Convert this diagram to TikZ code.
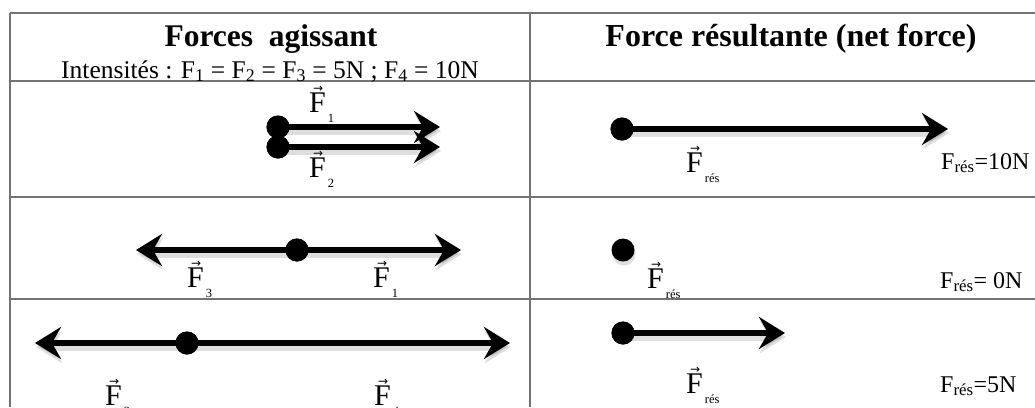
\documentclass[tikz,border=0pt]{standalone}
\usepackage{fontspec}
\setmainfont{Liberation Serif}
\newfontfamily\arrowfont{DejaVu Sans}
\usetikzlibrary{arrows.meta}
\newcommand{\vecF}[1]{\leavevmode\rlap{\makebox[0.6em][c]{\raisebox{0.64em}{\arrowfont\fontsize{12}{12}\selectfont →}}}F\kern2pt\raisebox{-10pt}{\fontsize{12.5}{12.5}\selectfont #1}}
\tikzset{
  grid/.style={draw=black!55, line width=1.3pt},
  dot/.style={circle, fill=black, inner sep=0pt, minimum size=23pt},
  shade/.style={preaction={draw=black, opacity=0.13, line width=8pt, transform canvas={shift={(1pt,-4pt)}}}},
  dotshade/.style={preaction={fill=black, opacity=0.13, transform canvas={shift={(1pt,-4pt)}}}},
  force/.style={line width=6pt, -{Stealth[length=26pt,width=32pt,inset=9pt]}, shade},
  vlab/.style={anchor=base west, inner sep=0pt, font=\fontsize{30}{32}\selectfont},
  rlab/.style={anchor=base west, inner sep=0pt, font=\fontsize{24}{26}\selectfont},
  head/.style={anchor=base, inner sep=0pt, font=\fontsize{31.5}{33}\selectfont\bfseries},
  sub/.style={anchor=base, inner sep=0pt, font=\fontsize{25.5}{27}\selectfont},
}
\begin{document}
\begin{tikzpicture}[x=1pt,y=-1pt]
\useasboundingbox (0,0) rectangle (1035,407);
% table
\draw[grid] (10,13) -- (1035,13);
\draw[grid] (10,81) -- (1035,81);
\draw[grid] (10,197) -- (1035,197);
\draw[grid] (10,299) -- (1035,299);
\draw[grid] (10,13) -- (10,407);
\draw[grid] (530,13) -- (530,407);
% headers
\node[head] (h1) at (271,46) {Forces\ \ agissant};
\node[sub] (h2) at (270,78) {Intensités : F\textsubscript{1} = F\textsubscript{2} = F\textsubscript{3} = 5N ; F\textsubscript{4} = 10N};
\node[head, font=\fontsize{32}{34}\selectfont\bfseries] (h3) at (791,46) {Force résultante (net force)};
% row 1 left
\coordinate (t1a) at (440,127);
\coordinate (t1b) at (440,147);
\node[dot] (d1a) at (278,127) {};
\node[dot] (d1b) at (278,147) {};
\draw[force] (d1a.center) -- (t1a);
\draw[force] (d1b.center) -- (t1b);
\node[dot] at (d1a) {};
\node[dot] at (d1b) {};
\node[vlab] (l1a) at (309,112) {\vecF{1}};
\node[vlab] (l1b) at (309,177) {\vecF{2}};
% row 1 right
\coordinate (r1t) at (948,129);
\node[dot] (r1d) at (622,129) {};
\draw[force] (r1d.center) -- (r1t);
\node[dot] at (r1d) {};
\node[vlab] (r1l) at (686,172) {\vecF{rés}};
\node[rlab] (r1v) at (941,169) {F\textsubscript{rés}=10N};
% row 2 left
\coordinate (t2l) at (136,250);
\coordinate (t2r) at (461,250);
\node[dot] (d2) at (297,250) {};
\draw[force] (d2.center) -- (t2l);
\draw[force] (d2.center) -- (t2r);
\node[dot] at (d2) {};
\node[vlab] (l2a) at (187,287) {\vecF{3}};
\node[vlab] (l2b) at (373,287) {\vecF{1}};
% row 2 right
\node[dot, dotshade] (r2d) at (623,250) {};
\node[vlab] (r2l) at (647,288) {\vecF{rés}};
\node[rlab] (r2v) at (940,288) {F\textsubscript{rés}= 0N};
% row 3 left
\coordinate (t3l) at (35,343);
\coordinate (t3r) at (510,343);
\node[dot] (d3) at (187,343) {};
\draw[force] (d3.center) -- (t3l);
\draw[force] (d3.center) -- (t3r);
\node[dot] at (d3) {};
\node[vlab] (l3a) at (105,405) {\vecF{3}};
\node[vlab] (l3b) at (374,405) {\vecF{4}};
% row 3 right
\coordinate (r3t) at (785,333);
\node[dot] (r3d) at (623,333) {};
\draw[force] (r3d.center) -- (r3t);
\node[dot] at (r3d) {};
\node[vlab] (r3l) at (686,393) {\vecF{rés}};
\node[rlab] (r3v) at (940,392) {F\textsubscript{rés}=5N};
\end{tikzpicture}
\end{document}
